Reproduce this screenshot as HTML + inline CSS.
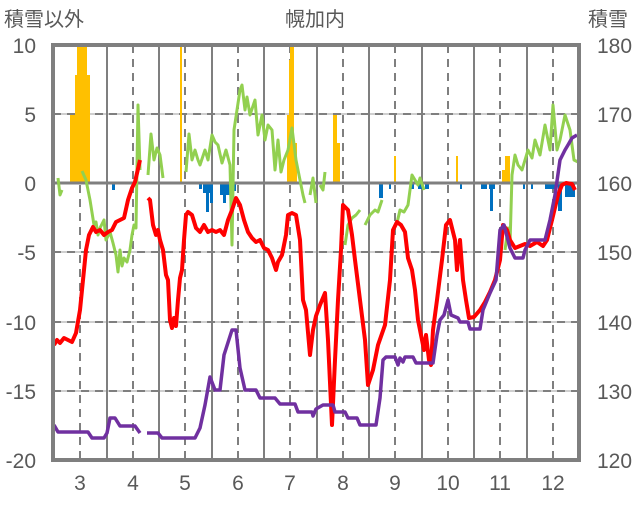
<!DOCTYPE html>
<html><head><meta charset="utf-8"><style>
body{margin:0;background:#fff;}
svg text{font-family:"Liberation Sans","Noto Sans CJK JP",sans-serif;fill:#595959;}
</style></head><body>
<svg width="636" height="501" viewBox="0 0 636 501">
<g stroke="#bfbfbf" stroke-width="1.5">
<line x1="53" y1="114" x2="579" y2="114"/><line x1="53" y1="252" x2="579" y2="252"/><line x1="53" y1="322" x2="579" y2="322"/><line x1="53" y1="391" x2="579" y2="391"/>
</g>
<g stroke="#7f7f7f" stroke-width="2" stroke-dasharray="8,6">
<line x1="53" y1="114" x2="579" y2="114"/><line x1="53" y1="252" x2="579" y2="252"/><line x1="53" y1="322" x2="579" y2="322"/><line x1="53" y1="391" x2="579" y2="391"/>
<line x1="80" y1="45" x2="80" y2="460"/><line x1="133" y1="45" x2="133" y2="460"/><line x1="185" y1="45" x2="185" y2="460"/><line x1="238" y1="45" x2="238" y2="460"/><line x1="290" y1="45" x2="290" y2="460"/><line x1="343" y1="45" x2="343" y2="460"/><line x1="395" y1="45" x2="395" y2="460"/><line x1="448" y1="45" x2="448" y2="460"/><line x1="500" y1="45" x2="500" y2="460"/><line x1="553" y1="45" x2="553" y2="460"/>
</g>
<g stroke="#7f7f7f" stroke-width="2">
<line x1="107" y1="45" x2="107" y2="460"/><line x1="159" y1="45" x2="159" y2="460"/><line x1="212" y1="45" x2="212" y2="460"/><line x1="264" y1="45" x2="264" y2="460"/><line x1="317" y1="45" x2="317" y2="460"/><line x1="369" y1="45" x2="369" y2="460"/><line x1="422" y1="45" x2="422" y2="460"/><line x1="474" y1="45" x2="474" y2="460"/><line x1="527" y1="45" x2="527" y2="460"/>
</g>
<g fill="#ffc000">
<rect x="70" y="115" width="5" height="68"/><rect x="75" y="75" width="2" height="108"/><rect x="77" y="45" width="10" height="138"/><rect x="87" y="75" width="3" height="108"/>
<rect x="180" y="45" width="2" height="138"/>
<rect x="287" y="115" width="2" height="68"/><rect x="289" y="60" width="1" height="123"/><rect x="290" y="45" width="4" height="138"/><rect x="294" y="143" width="3" height="40"/>
<rect x="333" y="115" width="4" height="68"/><rect x="337" y="143" width="3" height="40"/>
<rect x="394" y="156" width="2" height="27"/><rect x="456" y="156" width="2" height="27"/>
<rect x="502" y="170" width="3" height="13"/><rect x="505" y="156" width="5" height="27"/>
</g>
<g fill="#0070c0">
<rect x="112" y="183" width="3" height="7"/><rect x="199" y="183" width="3" height="6"/><rect x="203" y="183" width="8" height="10"/><rect x="206" y="183" width="3" height="29"/><rect x="210" y="183" width="3" height="20"/>
<rect x="220" y="183" width="10" height="12"/><rect x="223" y="183" width="3" height="20"/><rect x="230" y="183" width="6" height="8"/>
<rect x="379" y="183" width="4" height="15"/><rect x="389" y="183" width="2" height="6"/><rect x="411" y="183" width="3" height="6"/><rect x="418" y="183" width="4" height="6"/><rect x="425" y="183" width="4" height="6"/><rect x="460" y="183" width="2" height="6"/>
<rect x="481" y="183" width="6" height="6"/><rect x="489" y="183" width="6" height="6"/><rect x="490" y="183" width="3" height="28"/>
<rect x="523" y="183" width="2" height="6"/><rect x="531" y="183" width="2" height="6"/><rect x="545" y="183" width="10" height="6"/><rect x="558" y="183" width="4" height="28"/><rect x="565" y="183" width="10" height="14"/>
</g>
<line x1="53" y1="183" x2="579" y2="183" stroke="#7f7f7f" stroke-width="3"/>
<g fill="none" stroke-width="3" stroke-linejoin="round">
<g stroke="#92d050">
<polyline points="58,178 60,195 62,190"/>
<polyline points="82,171 86,180 90,200 94,225 96,222 98,235 100,228 104,220 106,240 110,232 113,243 116,255 118,272 120,250 122,266 124,258 127,262 130,250 132,235 134,225 136,228 138,105 140,170"/>
<polyline points="148,175 151,134 154,160 157,148 160,155 163,178"/>
<polyline points="186,172 189,134 192,160 195,150 198,160 200,165 205,150 208,160 212,135 215,142 218,145 222,163 226,150 230,165 232,245 234,130 240,90 242,85 245,110 247,97 250,115 255,100 258,135 262,115 265,140 268,125 272,130 275,170 278,140 281,172 284,160 288,150 292,128 296,160 300,180 303,195 305,203"/>
<polyline points="310,195 313,178 316,203"/>
<polyline points="320,185 323,190 325,172"/>
<polyline points="345,245 348,225 352,218 356,215 360,210"/>
<polyline points="365,225 370,215 375,210 378,212 382,200"/>
<polyline points="397,223 400,210 404,212 408,205 412,175 418,185 420,178 424,190"/>
<polyline points="505,250 508,228 510,245 512,175 515,155 518,165 522,170 528,150 532,158 535,140 540,155 545,125 550,150 553,105 557,150 560,140 565,115 570,130 574,160 578,162"/>
</g>
<polyline stroke="#ff0000" stroke-width="4" points="54,345 57,340 60,343 64,338 68,340 72,342 76,333 80,310 84,270 86,250 89,235 93,227 96,232 100,230 104,235 108,232 112,230 116,222 120,220 124,218 128,200 132,188 135,182 140,160"/>
<polyline stroke="#ff0000" stroke-width="4" points="148,198 150,200 153,225 156,235 158,230 160,240 163,250 166,275 168,280 170,320 172,328 174,318 176,326 178,300 180,278 182,270 184,240 186,215 188,212 192,215 196,228 200,232 204,225 208,232 212,230 216,232 220,230 224,235 228,220 232,210 236,198 240,205 244,220 248,232 252,238 256,242 260,240 264,248 268,250 272,258 276,270 278,262 282,255 286,235 288,215 292,213 296,215 300,240 303,300 306,310 310,355 313,330 316,316 320,305 325,293 328,340 332,425 335,360 338,300 341,250 343,205 348,210 352,235 355,260 360,300 365,340 368,385 373,370 378,345 385,325 390,280 393,230 397,222 401,225 405,232 408,258 412,270 415,290 418,320 424,350 426,335 429,360 431,365 433,330 437,300 442,260 446,225 450,220 453,232 455,240 457,270 460,240 463,280 466,300 469,318 474,317 480,310 485,302 490,292 495,280 500,260 503,225 507,230 510,240 515,248 525,244 530,246 537,242 543,246 547,240 552,220 558,195 562,185 566,183 572,184 575,190"/>
<polyline stroke="#7030a0" stroke-width="3.5" points="54,425 58,432 70,432 88,432 92,438 104,438 107,433 110,418 115,418 120,426 135,426 140,433"/>
<polyline stroke="#7030a0" stroke-width="3.5" points="147,433 158,433 162,438 195,438 200,428 205,405 210,377 215,390 220,390 224,355 232,330 236,330 240,368 245,390 256,390 260,398 275,398 280,404 295,404 298,412 312,412 313,416 316,409 323,405 333,405 335,412 345,412 348,418 357,418 360,425 376,425 380,398 383,360 386,357 395,357 398,365 400,358 403,362 405,357 413,357 416,363 433,363 437,335 440,320 444,315 448,300 451,315 458,318 460,322 468,322 470,329 480,329 483,310 490,293 496,280 500,230 504,225 510,248 515,258 523,258 525,250 530,240 545,240 550,220 555,195 560,160 565,150 568,145 572,138 577,135"/>
</g>
<rect x="53" y="45" width="526" height="415" fill="none" stroke="#7f7f7f" stroke-width="4"/>
<g font-size="21" text-anchor="end">
<text x="36" y="53">10</text><text x="36" y="122">5</text><text x="36" y="191">0</text><text x="36" y="260">-5</text><text x="36" y="330">-10</text><text x="36" y="399">-15</text><text x="36" y="468">-20</text>
</g>
<g font-size="21" text-anchor="start">
<text x="597" y="53">180</text><text x="597" y="122">170</text><text x="597" y="191">160</text><text x="597" y="260">150</text><text x="597" y="330">140</text><text x="597" y="399">130</text><text x="597" y="468">120</text>
</g>
<g font-size="21" text-anchor="middle">
<text x="80" y="490">3</text><text x="133" y="490">4</text><text x="185" y="490">5</text><text x="238" y="490">6</text><text x="290" y="490">7</text><text x="343" y="490">8</text><text x="395" y="490">9</text><text x="448" y="490">10</text><text x="500" y="490">11</text><text x="553" y="490">12</text>
</g>
<text x="4" y="26" font-size="20">積雪以外</text>
<text x="315" y="26" font-size="20" text-anchor="middle">幌加内</text>
<text x="588" y="26" font-size="20">積雪</text>
</svg>
</body></html>
